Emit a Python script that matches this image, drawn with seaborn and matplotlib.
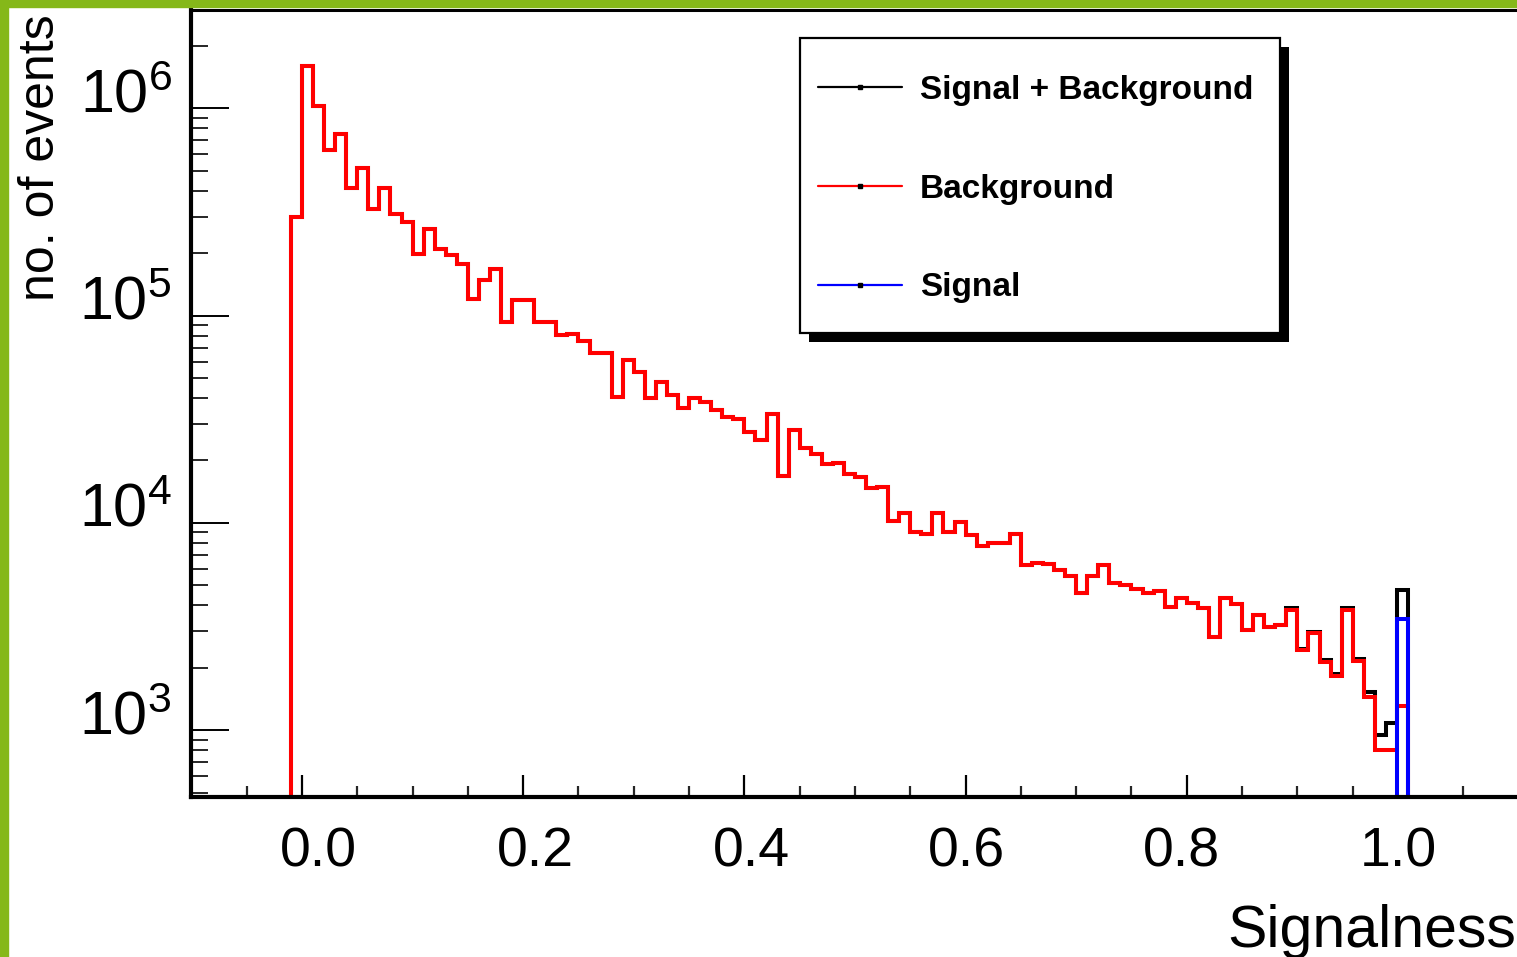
import numpy as np
import matplotlib
matplotlib.use("Agg")
import matplotlib.pyplot as plt
import seaborn as sns
from matplotlib import font_manager
from matplotlib.lines import Line2D
from matplotlib.patches import Rectangle
from matplotlib.transforms import ScaledTranslation
from matplotlib.ticker import LogLocator, MultipleLocator, NullFormatter, FormatStrFormatter

# ---- histogram contents: 0.01 wide bins from -0.01 to 1.00 ----
bin_width = 0.01
first_edge = -0.01

background = [
    300000, 1600000, 1030000, 630000, 750000, 414000, 515000, 327000, 414000, 309000,
    284000, 198000, 262000, 210000, 196000, 177000, 120000, 148000, 168000, 93500,
    119000, 119000, 93500, 93500, 80600, 81500, 75700, 66000, 66000, 40600,
    61100, 53600, 40000, 47900, 41400, 35800, 40000, 38400, 35100, 32500,
    31700, 27500, 25100, 33500, 16800, 28100, 23000, 21500, 19200, 19500,
    17200, 16600, 14700, 14900, 10200, 11200, 9070, 8840, 11200, 9070,
    10100, 8740, 7740, 8030, 8000, 8840, 6270, 6430, 6340, 5930,
    5540, 4610, 5540, 6270, 5130, 5020, 4800, 4610, 4710, 3940,
    4340, 4120, 3890, 2820, 4340, 4060, 3040, 3590, 3130, 3220,
    3820, 2440, 2930, 2140, 1820, 3780, 2160, 1450, 803, 803,
    1309,
]
signal = [0] * 90 + [65, 30, 40, 40, 40, 85, 50, 70, 145, 275, 3430]

legend_labels = ["Signal + Background", "Background", "Signal"]
series_colors = ["black", "#ff0000", "#0000ff"]

x_label = "Signalness"
y_label = "no. of events"

# ---- build padded bins so the outline drops to the baseline at both ends ----
n_bins = len(background)
edges = np.round(first_edge + bin_width * np.arange(-1, n_bins + 2), 4)
centers = 0.5 * (edges[:-1] + edges[1:])
bkg = np.concatenate([[0], background, [0]]).astype(float)
sig = np.concatenate([[0], signal, [0]]).astype(float)
tot = bkg + sig

sns.set_theme(style="white")
avail = {f.name for f in font_manager.fontManager.ttflist}
plt.rcParams["font.family"] = ["Liberation Sans", "DejaVu Sans"]
plt.rcParams["mathtext.default"] = "regular"
narrow = "Liberation Sans Narrow" in avail
legend_family = ["Liberation Sans Narrow", "Liberation Sans"] if narrow else ["Liberation Sans"]
legend_size = 28 if narrow else 24

W, H, DPI = 1517, 957, 100
fig = plt.figure(figsize=(W / DPI, H / DPI), dpi=DPI, facecolor="white")

# axes frame in pixels: left 191.4, right 1518.6, top 10, bottom 797
ax_l, ax_r, ax_t, ax_b = 191.4, 1518.6, 10, 797
ax = fig.add_axes([ax_l / W, 1 - ax_b / H, (ax_r - ax_l) / W, (ax_b - ax_t) / H])
ax.set_facecolor("white")


def px_to_axes(px, py):
    return (px - ax_l) / (ax_r - ax_l), (ax_b - py) / (ax_b - ax_t)


line_kw = dict(element="step", fill=False, linewidth=2.9, bins=list(edges), ax=ax)
for weights, col in zip([tot, bkg, sig], series_colors):
    sns.histplot(x=list(centers), weights=list(weights), color=col,
                 solid_joinstyle="miter", solid_capstyle="butt", **line_kw)

ax.set_yscale("log")
ax.set_xlim(-0.1, 1.1)
ax.set_ylim(476, 2.98e6)

# ticks
ax.xaxis.set_major_locator(MultipleLocator(0.2))
ax.xaxis.set_minor_locator(MultipleLocator(0.05))
ax.xaxis.set_major_formatter(FormatStrFormatter("%.1f"))
ax.yaxis.set_major_locator(LogLocator(base=10))
ax.yaxis.set_minor_locator(LogLocator(base=10, subs=np.arange(2, 10)))
ax.yaxis.set_minor_formatter(NullFormatter())

ax.tick_params(axis="x", which="major", direction="in", length=16, width=1.6,
               pad=21, labelsize=40, colors="black", bottom=True, top=False)
ax.tick_params(axis="x", which="minor", direction="in", length=8, width=1.6,
               bottom=True, top=False)
ax.tick_params(axis="y", which="major", direction="in", length=27, width=1.4,
               pad=14, labelsize=44, colors="black", left=True, right=False)
ax.tick_params(axis="y", which="minor", direction="in", length=12, width=1.4,
               left=True, right=False)

for side, lw in [("left", 3.0), ("bottom", 3.0), ("top", 2.2), ("right", 2.2)]:
    ax.spines[side].set_visible(True)
    ax.spines[side].set_color("black")
    ax.spines[side].set_linewidth(lw)

ax.set_xlabel(x_label, loc="right", fontsize=42.5, color="black")
ax.xaxis.set_label_coords(0.9985, -0.136)
ax.set_ylabel(y_label, loc="top", fontsize=36, color="black")
ax.yaxis.set_label_coords(-0.0957, 0.994)

# tick-label placement in the ROOT style: exponent labels sit a little high,
# and the x labels drift slightly across the axis
fig.canvas.draw()
for lab in ax.get_yticklabels():
    lab.set_transform(lab.get_transform() + ScaledTranslation(0, 0.18, fig.dpi_scale_trans))
x_label_shift_px = {0.0: 16, 0.2: 12, 0.4: 7, 0.6: 1, 0.8: -5, 1.0: -10}
for tick in ax.xaxis.get_major_ticks():
    shift = x_label_shift_px.get(round(tick.get_loc(), 1), 0)
    lab = tick.label1
    lab.set_transform(lab.get_transform() + ScaledTranslation(shift / DPI, 0, fig.dpi_scale_trans))

# legend: box with a solid drop shadow, entries inside
bx0, by0 = px_to_axes(800, 333)
bx1, by1 = px_to_axes(1280, 38)
sx, sy = 9 / (ax_r - ax_l), 9 / (ax_b - ax_t)
ax.add_patch(Rectangle((bx0 + sx, by0 - sy), bx1 - bx0, by1 - by0, transform=ax.transAxes,
                       facecolor="black", edgecolor="black", lw=0, zorder=6, clip_on=False))
ax.add_patch(Rectangle((bx0, by0), bx1 - bx0, by1 - by0, transform=ax.transAxes,
                       facecolor="white", edgecolor="black", lw=1.6, zorder=7, clip_on=False))

handles = [Line2D([], [], color=c, lw=1.6, marker="s", markersize=2.2,
                  markerfacecolor="black", markeredgecolor="black") for c in series_colors]
lx, ly = px_to_axes(818, 75)
leg = ax.legend(handles, legend_labels, loc="upper left", bbox_to_anchor=(lx, ly),
                borderaxespad=0, borderpad=0, numpoints=1,
                prop={"family": legend_family, "weight": "bold", "size": legend_size},
                frameon=False, handlelength=2.52, handletextpad=0.54, labelspacing=2.03)
leg.set_zorder(8)
for t in leg.get_texts():
    t.set_color("black")

# green page border along the left and top edges
green = "#85b819"
fig.add_artist(Rectangle((0, 0), 8 / W, 1, transform=fig.transFigure,
                         color=green, zorder=10))
fig.add_artist(Rectangle((0, 1 - 7 / H), 1, 7 / H, transform=fig.transFigure,
                         color=green, zorder=10))

fig.savefig("out.png", dpi=DPI, facecolor="white")
